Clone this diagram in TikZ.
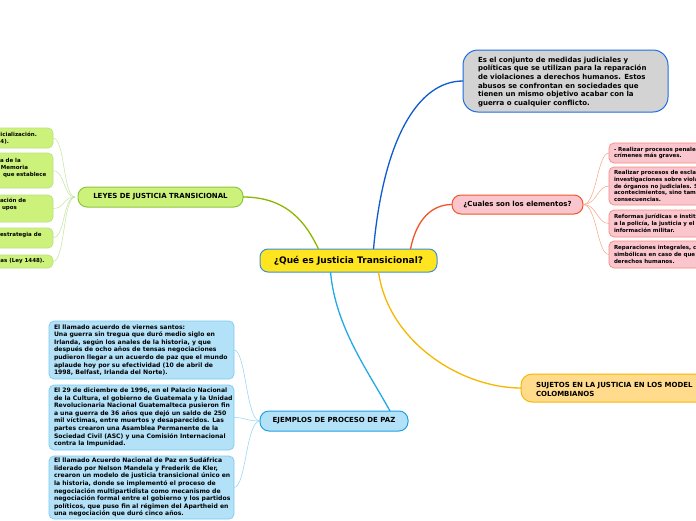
\documentclass[tikz,border=0pt]{standalone}
\usepackage{fontspec}
\setmainfont{DejaVu Sans}
\definecolor{cenF}{HTML}{FFE51F}
\definecolor{cenB}{HTML}{3B8ED8}
\definecolor{grF}{HTML}{D3D3D3}
\definecolor{grB}{HTML}{1F6DDF}
\definecolor{grL}{HTML}{0E5BD0}
\definecolor{pkF}{HTML}{FAC5CC}
\definecolor{pkB}{HTML}{F0562A}
\definecolor{pkSB}{HTML}{F58A80}
\definecolor{pkSL}{HTML}{F7A585}
\definecolor{goF}{HTML}{FFDB8B}
\definecolor{goB}{HTML}{F5B700}
\definecolor{blF}{HTML}{B3E2F8}
\definecolor{blB}{HTML}{1EA2E2}
\definecolor{blL}{HTML}{22AAE6}
\definecolor{blSB}{HTML}{7CCBF0}
\definecolor{blSL}{HTML}{8CD3F2}
\definecolor{gnF}{HTML}{CDF27B}
\definecolor{gnB}{HTML}{8CC63E}
\definecolor{gnL}{HTML}{8DB600}
\definecolor{gnSB}{HTML}{B9E27E}
\definecolor{gnSL}{HTML}{C3E3A0}
\begin{document}
\begin{tikzpicture}[x=1pt,y=-1pt,
  every node/.style={inner sep=0pt,outer sep=0pt},
  head/.style={draw,line width=1pt,rounded corners=9pt,font=\fontsize{7}{8.6}\selectfont\bfseries},
  subbox/.style={draw,line width=0.7pt,rounded corners=5pt,anchor=north west},
  txtL/.style={anchor=west,align=left,font=\fontsize{6.1}{7.6}\selectfont\bfseries},
  txtS/.style={anchor=west,align=left,font=\fontsize{5.5}{6.8}\selectfont\bfseries},
  conn/.style={line width=1.3pt},
  subconn/.style={line width=0.5pt}]

\fill[white] (0,0) rectangle (696,520);
\useasboundingbox (0,0) rectangle (696,520);
\clip (0,0) rectangle (696,520);

% ---------- main nodes ----------
\node[draw=cenB,fill=cenF,line width=1pt,rounded corners=8pt,minimum width=177pt,minimum height=23pt,
  font=\fontsize{9}{11}\selectfont\bfseries] (c) at (348.5,260.5) {¿Qué es Justicia Transicional?};

\node[draw=grB,fill=grF,line width=1pt,rounded corners=15pt,anchor=north west,minimum width=205pt,minimum height=62pt] (gray) at (463,50) {};
\node[anchor=west,align=left,font=\fontsize{7}{8.7}\selectfont\bfseries] (grayt) at (478,82) {Es el conjunto de medidas judiciales y\\políticas que se utilizan para la reparación\\de violaciones a derechos humanos. Estos\\abusos se confrontan en sociedades que\\tienen un mismo objetivo acabar con la\\guerra o cualquier conflicto.};

\node[head,draw=pkB,fill=pkF,minimum width=131pt,minimum height=19pt] (cual) at (517.5,204.5) {¿Cuales son los elementos?};
\node[head,draw=gnB,fill=gnF,minimum width=165pt,minimum height=20pt] (leyes) at (160.5,197) {LEYES DE JUSTICIA TRANSICIONAL};
\node[head,draw=blB,fill=blF,minimum width=148pt,minimum height=20pt] (ejem) at (334,421) {EJEMPLOS DE PROCESO DE PAZ};
\node[draw=goB,fill=goF,line width=1pt,rounded corners=11pt,anchor=north west,minimum width=200pt,minimum height=28pt] (suj) at (521,374) {};
\node[anchor=west,align=left,font=\fontsize{7}{9}\selectfont\bfseries] (sujt) at (536,389.5) {SUJETOS EN LA JUSTICIA EN LOS MODEL\\COLOMBIANOS};

% ---------- main connectors ----------
\draw[conn,grL] ([xshift=25pt]c.north) .. controls +(10,-110) and +(-45,0) .. (gray.west);
\draw[conn,pkB] ([xshift=62pt]c.north) .. controls +(6,-30) and +(-20,0) .. (cual.west);
\draw[conn,goB] ([xshift=30pt]c.south) .. controls +(10,70) and +(-60,0) .. (suj.west);
\draw[conn,blL] ([xshift=-18pt]c.south) .. controls +(5,55) and +(-22,-40) .. ([xshift=56pt]ejem.north);
\draw[conn,gnL] (leyes.east) .. controls +(45,0) and +(-12,-25) .. ([xshift=-30pt]c.north);

% ---------- pink sub boxes ----------
\node[subbox,draw=pkSB,fill=pkF,minimum width=110pt,minimum height=20pt] (p1) at (609,143) {};
\node[subbox,draw=pkSB,fill=pkF,minimum width=110pt,minimum height=38pt] (p2) at (609,167) {};
\node[subbox,draw=pkSB,fill=pkF,minimum width=110pt,minimum height=27pt] (p3) at (609,210) {};
\node[subbox,draw=pkSB,fill=pkF,minimum width=110pt,minimum height=27pt] (p4) at (609,241) {};
\node[txtS] (p1t) at (614,153) {- Realizar procesos penales\\crímenes más graves.};
\node[txtS] (p2t) at (614,186) {Realizar procesos de esclar\\investigaciones sobre viola\\de órganos no judiciales. S\\acontecimientos, sino tamb\\consecuencias.};
\node[txtS] (p3t) at (614,223.5) {Reformas jurídicas e instit\\a la policía, la justicia y el\\información militar.};
\node[txtS] (p4t) at (614,254.5) {Reparaciones integrales, co\\simbólicas en caso de que\\derechos humanos.};
\foreach \n in {p1,p2,p3,p4}
  \draw[subconn,pkSL] (cual.east) .. controls +(14,0) and +(-12,0) .. (\n.west);

% ---------- green sub boxes ----------
\node[subbox,draw=gnSB,fill=gnF,minimum width=63pt,minimum height=20pt] (g1) at (-10,128) {};
\node[subbox,draw=gnSB,fill=gnF,minimum width=63pt,minimum height=35pt] (g2) at (-10,153) {};
\node[subbox,draw=gnSB,fill=gnF,minimum width=63pt,minimum height=27pt] (g3) at (-10,195) {};
\node[subbox,draw=gnSB,fill=gnF,minimum width=63pt,minimum height=20pt] (g4) at (-10,228) {};
\node[subbox,draw=gnSB,fill=gnF,minimum width=63pt,minimum height=13pt] (g5) at (-10,255) {};
\node[txtS] (g1t) at (0.5,138.5) {icialización.\\4).};
\node[txtS] (g2t) at (0,168) {a de la\\\kern1pt Memoria\\\kern3pt que establece};
\node[txtS] (g3t) at (0,204.5) {ación de\\\kern2pt upos};
\node[txtS] (g4t) at (0,234.5) {estrategia de};
\node[txtS] (g5t) at (0.5,261.5) {as (Ley 1448).};
\foreach \n in {g1,g2,g3,g4,g5}
  \draw[subconn,gnSL] ([xshift=-3pt]leyes.west) .. controls +(-12,0) and +(12,0) .. (\n.east);

% ---------- blue sub boxes ----------
\node[subbox,draw=blSB,fill=blF,minimum width=185pt,minimum height=58pt] (b1) at (49,321) {};
\node[subbox,draw=blSB,fill=blF,minimum width=185pt,minimum height=65pt] (b2) at (49,385) {};
\node[subbox,draw=blSB,fill=blF,minimum width=185pt,minimum height=63pt] (b3) at (49,456) {};
\node[txtL] (b1t) at (54,350) {El llamado acuerdo de viernes santos:\\Una guerra sin tregua que duró medio siglo en\\Irlanda, según los anales de la historia, y que\\después de ocho años de tensas negociaciones\\pudieron llegar a un acuerdo de paz que el mundo\\aplaude hoy por su efectividad (10 de abril de\\1998, Belfast, Irlanda del Norte).};
\node[txtL] (b2t) at (54,417.5) {El 29 de diciembre de 1996, en el Palacio Nacional\\de la Cultura, el gobierno de Guatemala y la Unidad\\Revolucionaria Nacional Guatemalteca pusieron fin\\a una guerra de 36 años que dejó un saldo de 250\\mil víctimas, entre muertos y desaparecidos. Las\\partes crearon una Asamblea Permanente de la\\Sociedad Civil (ASC) y una Comisión Internacional\\contra la Impunidad.};
\node[txtL] (b3t) at (54,487.5) {El llamado Acuerdo Nacional de Paz en Sudáfrica\\liderado por Nelson Mandela y Frederik de Kler,\\crearon un modelo de justicia transicional único en\\la historia, donde se implementó el proceso de\\negociación multipartidista como mecanismo de\\negociación formal entre el gobierno y los partidos\\políticos, que puso fin al régimen del Apartheid en\\una negociación que duró cinco años.};
\foreach \n in {b1,b2,b3}
  \draw[subconn,blSL] (ejem.west) .. controls +(-14,0) and +(12,0) .. (\n.east);
\end{tikzpicture}
\end{document}
